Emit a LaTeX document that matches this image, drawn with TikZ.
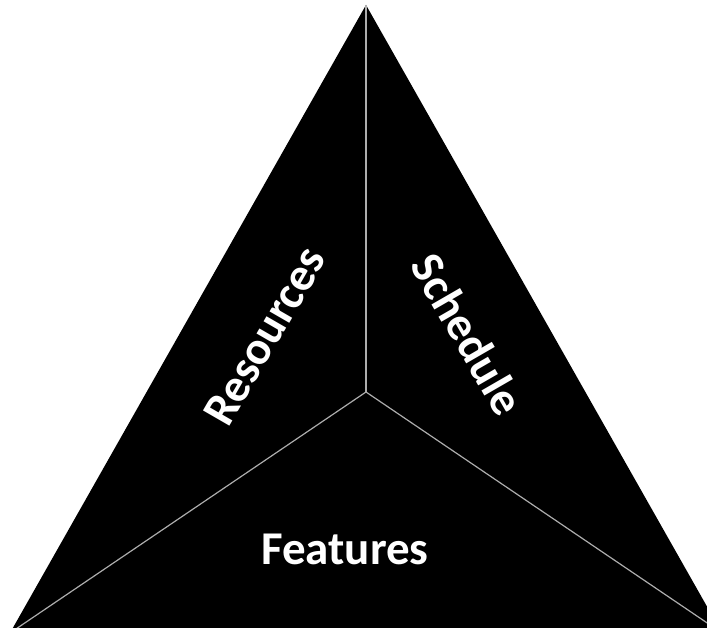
\documentclass[tikz,border=0pt]{standalone}
\usepackage{fontspec}
\setmainfont{Carlito}
\begin{document}
\begin{tikzpicture}[x=1pt,y=1pt,
  divider/.style={draw=black!32, line width=1.2pt},
  lbl/.style={text=white, font=\bfseries\fontsize{47}{56}\selectfont, inner sep=0pt}]
\useasboundingbox (0,0) rectangle (707,628);
\clip (0,0) rectangle (707,628);
\coordinate (A) at (366,623);
\coordinate (BL) at (10,-5);
\coordinate (BR) at (722,-5);
\coordinate (C) at (366,236);
\fill[black] (A) -- (BL) -- (BR) -- cycle;
\draw[divider] (C) -- (A);
\draw[divider] (C) -- (BL);
\draw[divider] (C) -- (BR);
\node[lbl, rotate=60] (res) at (265,292) {Resources};
\node[lbl, rotate=-60] (sch) at (468,294) {Schedule};
\node[lbl] (fea) at (345,79) {Features};
\end{tikzpicture}
\end{document}
